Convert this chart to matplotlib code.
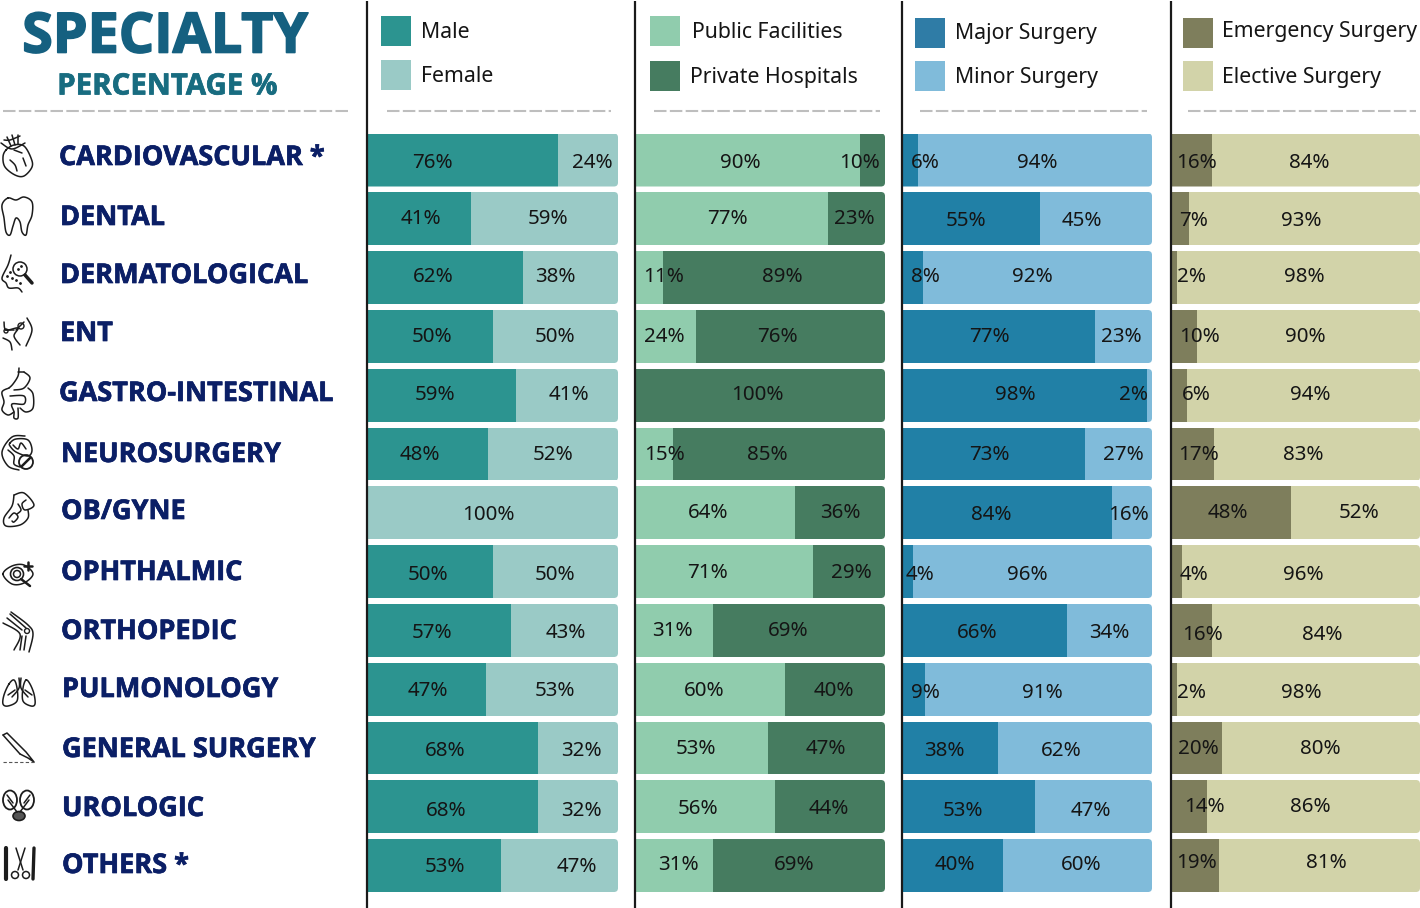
import numpy as np
import matplotlib
matplotlib.use("Agg")
import matplotlib.pyplot as plt
import matplotlib.patheffects as pe
from matplotlib.patches import FancyBboxPatch, Rectangle, Circle, Ellipse

W, H = 1420, 908
specialties = ["CARDIOVASCULAR *", "DENTAL", "DERMATOLOGICAL", "ENT", "GASTRO-INTESTINAL", "NEUROSURGERY",
               "OB/GYNE", "OPHTHALMIC", "ORTHOPEDIC", "PULMONOLOGY", "GENERAL SURGERY", "UROLOGIC", "OTHERS *"]
male = [76, 41, 62, 50, 59, 48, 0, 50, 57, 47, 68, 68, 53]
female = [24, 59, 38, 50, 41, 52, 100, 50, 43, 53, 32, 32, 47]
public = [90, 77, 11, 24, 0, 15, 64, 71, 31, 60, 53, 56, 31]
private = [10, 23, 89, 76, 100, 85, 36, 29, 69, 40, 47, 44, 69]
major = [6, 55, 8, 77, 98, 73, 84, 4, 66, 9, 38, 53, 40]
minor = [94, 45, 92, 23, 2, 27, 16, 96, 34, 91, 62, 47, 60]
emergency = [16, 7, 2, 10, 6, 17, 48, 4, 16, 2, 20, 14, 19]
elective = [84, 93, 98, 90, 94, 83, 52, 96, 84, 98, 80, 86, 81]
legend_names = [("Male", "Female"), ("Public Facilities", "Private Hospitals"),
                ("Major Surgery", "Minor Surgery"), ("Emergency Surgery", "Elective Surgery")]

# layout (pixels)
FONT = ["Noto Sans", "DejaVu Sans"]
HEAD = ["Open Sans", "DejaVu Sans"]
panels_x = [(368, 618), (636, 885), (903, 1152), (1172, 1420)]
bar_colors = [("#2C9490", "#9ACAC6"), ("#90CCAD", "#467C60"), ("#2180A6", "#80BBDA"), ("#7E7E5C", "#D2D3A9")]
swatch_colors = [("#2C9490", "#9ACAC6"), ("#90CCAD", "#467C60"), ("#2F7CA6", "#80BBDA"), ("#7E7E5C", "#D2D3A9")]
row_tops = [133.5, 192, 251, 310, 369, 428, 486, 545, 604, 663, 722, 780, 839]
BAR_H = 53
lab1_x = [[432,421,433,432,435,420,None,428,432,428,445,446,445],
          [740,727,664,664,None,664,708,707,672,704,696,698,678],
          [925,966,925,989,1015,989,991,920,977,925,944,963,955],
          [1196,1194,1192,1199,1196,1198,1228,1194,1202,1192,1198,1204,1196]]
lab2_x = [[592,548,555,555,569,553,488,555,566,555,581,581,577],
          [859,854,782,777,757,767,840,851,788,834,826,829,794],
          [1037,1082,1032,1121,1133,1123,1128,1027,1109,1042,1061,1091,1081],
          [1309,1301,1304,1305,1310,1303,1359,1303,1322,1301,1320,1310,1326]]
lab_y = [[161,217,276,335,394,454,514,573,632,690,750,809,866],
         [161,217,276,335,394,454,512,571,630,689,748,807,864],
         [161,219,276,335,394,454,514,573,632,691,750,809,864],
         [161,219,276,335,393,454,512,574,633,692,748,806,862]]
swatch = [(381, 16, 60), (650, 16, 61), (915, 18, 61), (1183, 18, 61)]
leg_text = [((421, 31), (421, 75)), ((692, 31), (690, 76)), ((955, 32), (955, 76)), ((1222, 30), (1222, 76))]
dashes = [(3, 348), (387, 611), (654, 880), (920, 1147), (1188, 1416)]
name_xy = [(59,155),(60,215),(60,273),(60,331),(59,391),(61,452),(61,509),(61,570),(61,629),(62,687),(62,747),(62,806),(62,863)]

fig = plt.figure(figsize=(W / 100, H / 100), dpi=100, facecolor="white")
ov = fig.add_axes([0, 0, 1, 1], zorder=5)
ov.set_xlim(0, W); ov.set_ylim(H, 0); ov.axis("off"); ov.patch.set_alpha(0)

series = [(male, female), (public, private), (major, minor), (emergency, elective)]
PITCH = (row_tops[-1] - row_tops[0]) / 12
for p, ((x0, x1), (a, b), cols) in enumerate(zip(panels_x, series, bar_colors)):
    top = row_tops[0] - (PITCH - BAR_H) / 2
    hpx = PITCH * 13
    ax = fig.add_axes([x0 / W, 1 - (top + hpx) / H, (x1 - x0) / W, hpx / H], zorder=1)
    ax.set_xlim(0, 100); ax.set_ylim(13, 0); ax.axis("off")
    y = np.arange(13) + 0.5
    r1 = ax.barh(y, a, height=BAR_H / PITCH, color=cols[0], linewidth=0)
    r2 = ax.barh(y, b, left=a, height=BAR_H / PITCH, color=cols[1], linewidth=0)
    for i in range(13):
        clip = FancyBboxPatch((x0 - 10, row_tops[i]), x1 - x0 + 10, BAR_H,
                              boxstyle="round,pad=0,rounding_size=4", transform=ov.transData)
        r1[i].set_clip_path(clip); r2[i].set_clip_path(clip)
        if a[i] > 0:
            ov.text(lab1_x[p][i], lab_y[p][i] + 1.5, f"{a[i]}%", ha="center", va="center", fontsize=14.8, family=FONT, color="#151515")
        ov.text(lab2_x[p][i], lab_y[p][i] + 1.5, f"{b[i]}%", ha="center", va="center", fontsize=14.8, family=FONT, color="#151515")
    sx, y1, y2 = swatch[p]
    for yy, c, name, (tx, ty) in zip((y1, y2), swatch_colors[p], legend_names[p], leg_text[p]):
        ov.add_patch(Rectangle((sx, yy), 30, 30, color=c, lw=0))
        ov.text(tx, ty + 2, name, ha="left", va="center", fontsize=15.3, family=FONT, color="#151515")
    ov.plot([x0 - 1] * 2, [1, H], color="#1a1a1a", lw=1.6, solid_capstyle="butt")

for d0, d1 in dashes:
    ov.plot([d0, d1], [110.5, 110.5], color="#BEBEBE", lw=1.5, dashes=(6, 1.6))

def heavy(t, c, w):
    t.set_path_effects([pe.withStroke(linewidth=w, foreground=c)])

heavy(ov.text(165, 38, "SPECIALTY", ha="center", va="center", fontsize=40, family=HEAD, weight="bold", color="#156080"), "#156080", 1.2)
heavy(ov.text(167, 87, "PERCENTAGE %", ha="center", va="center", fontsize=21.2, family=HEAD, weight="bold", color="#186C80"), "#186C80", 0.5)
for name, (nx, ny) in zip(specialties, name_xy):
    heavy(ov.text(nx, ny + 3, name, ha="left", va="center", fontsize=19.5, family=HEAD, weight="bold", color="#0B1F66"), "#0B1F66", 0.5)

# ---- outline icons (decoration) ----
def smooth(pts, closed=False, n=8):
    pts = np.array(pts, float)
    if closed:
        pts = np.vstack([pts[-1], pts, pts[0], pts[1]])
    else:
        pts = np.vstack([pts[0], pts, pts[-1]])
    out = []
    for i in range(1, len(pts) - 2):
        p0, p1, p2, p3 = pts[i - 1:i + 3]
        for t in np.linspace(0, 1, n, endpoint=False):
            out.append(0.5 * (2 * p1 + (p2 - p0) * t + (2 * p0 - 5 * p1 + 4 * p2 - p3) * t ** 2 + (3 * p1 - p0 - 3 * p2 + p3) * t ** 3))
    out.append(pts[-2])
    return np.array(out)

def stroke(pts, closed=False, lw=1.1, curved=True):
    q = smooth(pts, closed) if curved else np.array(pts, float)
    ov.plot(q[:, 0], q[:, 1], color="#1c1c1c", lw=lw, solid_capstyle="round")

# heart
stroke([(6,150),(14,145),(24,146),(31,158),(32,167),(24,176),(15,175),(5,167),(3,157)], closed=True)
stroke([(1,143),(12,149),(25,143)]); stroke([(7,137),(11,146)]); stroke([(12,135),(15,145)]); stroke([(18,135),(18,144)]); stroke([(4,140),(10,140),(20,136)])
stroke([(10,160),(15,165),(17,171)]); stroke([(23,158),(26,166)]); stroke([(14,150),(22,153)])
# tooth
stroke([(8,198),(16,200),(24,197),(32,202),(32,215),(28,225),(26,235),(22,232),(20,222),(16,218),(13,226),(10,235),(6,232),(4,218),(2,205)], closed=True)
# dermatology
stroke([(11,255),(8,265),(2,278),(6,283),(9,288),(18,288),(22,292)])
ov.add_patch(Circle((20, 269), 7, fill=False, ec="#1c1c1c", lw=1.1))
stroke([(25,275),(32,283)], lw=2.5, curved=False)
for dx, dy in [(10,272),(12,278),(16,280),(7,276),(18,269),(21,266),(20,283)]:
    ov.plot(dx, dy, ".", ms=2, color="#1c1c1c")
# ENT
stroke([(27,318),(32,330),(26,346)]); stroke([(4,322),(6,330),(18,328),(14,336),(20,345)])
stroke([(3,338),(10,342),(12,350)]); stroke([(5,330),(14,330)]); stroke([(16,330),(24,322)])
ov.add_patch(Circle((21, 326), 3, fill=False, ec="#1c1c1c", lw=1)); ov.add_patch(Circle((6, 331), 2, fill=False, ec="#1c1c1c", lw=1))
# GI
stroke([(19,368),(18,376),(13,384),(9,388)]); stroke([(24,372),(30,378),(24,388),(14,390)]); stroke([(18,372),(24,372)])
stroke([(28,388),(33,394),(33,408),(26,412),(20,408)]); stroke([(9,388),(2,392),(4,402),(2,410),(8,415),(14,412)])
stroke([(10,396),(24,396),(24,404),(12,404),(14,412),(14,418),(18,418),(18,408)])
# brain
stroke([(25,436),(12,437),(2,452),(8,466),(19,470)]); stroke([(10,443),(16,439),(28,440),(32,450),(28,456),(16,452),(10,446)], closed=True)
stroke([(13,445),(18,449),(21,443),(26,449)]); stroke([(8,450),(14,456),(14,464),(20,467)])
ov.add_patch(Circle((26, 462), 7, fill=False, ec="#1c1c1c", lw=1.3)); stroke([(22,466),(30,458)], curved=False, lw=1.8)
# pregnancy
stroke([(14,495),(24,493),(34,505),(25,510),(22,504),(26,500)]); stroke([(14,495),(12,506),(4,518),(6,526),(20,525),(28,518),(28,510)])
stroke([(9,518),(14,513),(18,517),(14,522),(12,521)]); stroke([(18,504),(21,510),(17,514)])
# eye
stroke([(3,574),(12,566),(24,565),(33,574),(24,583),(12,584)], closed=True)
ov.add_patch(Circle((17, 574), 6.5, fill=False, ec="#1c1c1c", lw=1.2))
ov.add_patch(Circle((17, 574), 3.5, fill=False, ec="#1c1c1c", lw=1.1))
stroke([(21,579),(30,586)], lw=1.8, curved=False); stroke([(28,562),(28,570)], lw=1.8, curved=False); stroke([(24,566),(32,566)], lw=1.8, curved=False)
# knee
stroke([(11,612),(28,625),(33,634),(29,652)]); stroke([(3,623),(20,634),(14,650)]); stroke([(7,618),(22,630)]); stroke([(10,614),(26,628)])
stroke([(22,636),(20,650)]); stroke([(26,636),(24,650)]); ov.add_patch(Circle((27, 631), 2.5, fill=False, ec="#1c1c1c", lw=1))
# lungs
stroke([(9,684),(4,695),(3,704),(8,706),(17,701),(17,688),(14,680)], closed=True)
stroke([(26,680),(23,688),(23,701),(31,706),(35,704),(34,694),(30,684)], closed=True)
stroke([(19,678),(19,688),(12,697)]); stroke([(21,678),(21,688),(28,697)]); stroke([(15,690),(8,695)]); stroke([(25,690),(32,695)])
# scalpel
stroke([(3,735),(7,733),(26,752),(34,762),(28,758),(20,754)], curved=False)
stroke([(3,735),(20,754)], curved=False)
ov.plot([3, 34], [762, 762], color="#555555", lw=0.8, ls=(0, (3, 2)))
# kidneys
ov.add_patch(Ellipse((10, 800), 14, 19, fill=False, ec="#1c1c1c", lw=1.3))
ov.add_patch(Ellipse((27, 800), 14, 19, fill=False, ec="#1c1c1c", lw=1.3))
stroke([(8,800),(17,812)]); stroke([(29,800),(20,812)]); stroke([(7,795),(13,803)]); stroke([(30,795),(24,803)])
ov.add_patch(Ellipse((19, 816), 12, 9, fill=True, fc="#555555", ec="#1c1c1c", lw=1.2))
# instruments
stroke([(6,848),(6,879)], lw=3, curved=False); stroke([(34,848),(33,879)], lw=2.4, curved=False)
stroke([(16,848),(23,870)], curved=False); stroke([(25,848),(18,870)], curved=False)
ov.add_patch(Circle((15, 875), 3.5, fill=False, ec="#1c1c1c", lw=1.1))
ov.add_patch(Circle((26, 875), 3.5, fill=False, ec="#1c1c1c", lw=1.1))

fig.savefig("out.png", dpi=100, facecolor="white")
